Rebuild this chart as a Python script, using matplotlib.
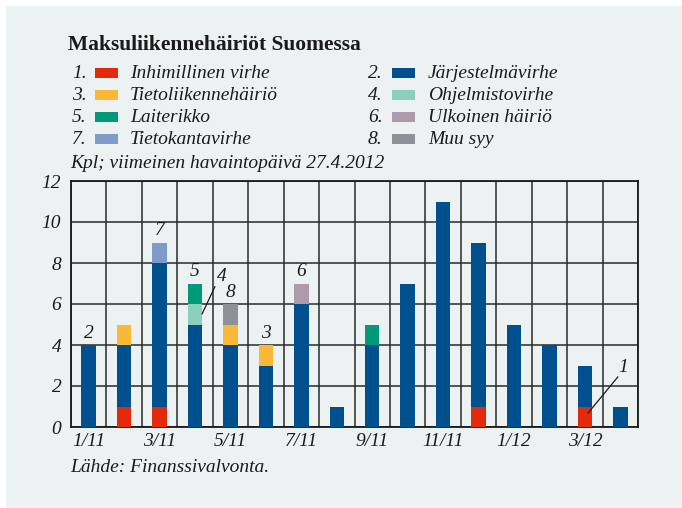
import matplotlib
matplotlib.use("Agg")
import matplotlib.pyplot as plt
from matplotlib.patches import Rectangle
import numpy as np

months = ["1/11", "2/11", "3/11", "4/11", "5/11", "6/11", "7/11", "8/11",
          "9/11", "10/11", "11/11", "12/11", "1/12", "2/12", "3/12", "4/12"]
tick_labels = ["1/11", "3/11", "5/11", "7/11", "9/11", "11/11", "1/12", "3/12"]

cat_names = ["Inhimillinen virhe", "Järjestelmävirhe", "Tietoliikennehäiriö",
             "Ohjelmistovirhe", "Laiterikko", "Ulkoinen häiriö",
             "Tietokantavirhe", "Muu syy"]
colors = ["#e42a0c", "#004f8e", "#fbb836", "#8dcfbd", "#009a78",
          "#ad9bab", "#7f9bc8", "#8e9196"]

human    = [0, 1, 1, 0, 0, 0, 0, 0, 0, 0, 0, 1, 0, 0, 1, 0]
system   = [4, 3, 7, 5, 4, 3, 6, 1, 4, 7, 11, 8, 5, 4, 2, 1]
telecom  = [0, 1, 0, 0, 1, 1, 0, 0, 0, 0, 0, 0, 0, 0, 0, 0]
software = [0, 0, 0, 1, 0, 0, 0, 0, 0, 0, 0, 0, 0, 0, 0, 0]
hardware = [0, 0, 0, 1, 0, 0, 0, 0, 1, 0, 0, 0, 0, 0, 0, 0]
external = [0, 0, 0, 0, 0, 0, 1, 0, 0, 0, 0, 0, 0, 0, 0, 0]
database = [0, 0, 1, 0, 0, 0, 0, 0, 0, 0, 0, 0, 0, 0, 0, 0]
other    = [0, 0, 0, 0, 1, 0, 0, 0, 0, 0, 0, 0, 0, 0, 0, 0]
series = [human, system, telecom, software, hardware, external, database, other]

top_labels = [("2", 0), ("7", 2), ("5", 3), ("8", 4), ("3", 5), ("6", 6)]

SERIF = ["Liberation Serif", "DejaVu Serif"]
BG = "#ecf2f2"
INK = "#1a1a1a"
FS = 14

fig = plt.figure(figsize=(6.82, 5.08), dpi=100)
fig.patch.set_facecolor("white")
fig.patches.append(Rectangle((6 / 682, 0), 1, 1 - 6 / 508, transform=fig.transFigure,
                             facecolor=BG, edgecolor="none", zorder=-10))

ax = fig.add_axes([71 / 682, 81 / 508, 567 / 682, 246 / 508])
ax.set_facecolor(BG)

x = np.arange(len(months))
bottom = np.zeros(len(months))
for vals, c in zip(series, colors):
    v = np.array(vals, dtype=float)
    ax.bar(x, v, width=0.41, bottom=bottom, color=c, edgecolor="none", zorder=3)
    bottom += v

ax.set_xlim(-0.5, len(months) - 0.5)
ax.set_ylim(0, 12)
ax.set_yticks(np.arange(0, 13, 2))
ax.set_yticklabels([str(v) for v in range(0, 13, 2)], fontfamily=SERIF,
                   fontstyle="italic", fontsize=FS, color=INK)
ax.set_xticks(np.arange(0, len(months), 2))
ax.set_xticklabels(tick_labels, fontfamily=SERIF, fontstyle="italic",
                   fontsize=FS, color=INK)
ax.tick_params(axis="y", length=0, pad=7)
ax.tick_params(axis="x", length=0, pad=4)
ax.set_xticks(np.arange(-0.5, len(months), 1), minor=True)
ax.tick_params(which="minor", length=0)
ax.grid(True, which="major", axis="y", color="#2a2a2a", linewidth=1.1, zorder=1)
ax.grid(True, which="minor", axis="x", color="#2a2a2a", linewidth=1.1, zorder=1)
ax.grid(False, which="major", axis="x")
for s in ax.spines.values():
    s.set_color(INK)
    s.set_linewidth(1.3)

totals = bottom
for lab, i in top_labels:
    ax.text(i, totals[i] + 0.15, lab, ha="center", va="bottom", fontfamily=SERIF,
            fontstyle="italic", fontsize=FS, color=INK, zorder=5)

ax.text(3.76, 6.95, "4", ha="center", va="bottom", fontfamily=SERIF,
        fontstyle="italic", fontsize=FS, color=INK, zorder=5)
ax.plot([3.56, 3.2], [6.84, 5.52], color=INK, linewidth=0.9, zorder=5)
ax.text(15.08, 2.5, "1", ha="center", va="bottom", fontfamily=SERIF,
        fontstyle="italic", fontsize=FS, color=INK, zorder=5)
ax.plot([14.93, 14.09], [2.44, 0.68], color=INK, linewidth=0.9, zorder=5)

fig.text(68 / 682, 1 - 45 / 508, "Maksuliikennehäiriöt Suomessa", fontfamily=SERIF,
         fontweight="bold", fontsize=15.5, color=INK, va="center", ha="left")

col_num_x = [72, 368]
col_sw_x = [95, 392]
col_txt_x = [130, 428]
row_y = [73, 95, 117, 139]
for k, (name, c) in enumerate(zip(cat_names, colors)):
    col = k % 2
    row = k // 2
    yc = 1 - row_y[row] / 508
    fig.text(col_num_x[col] / 682, yc, f"{k + 1}.", fontfamily=SERIF,
             fontstyle="italic", fontsize=FS, color=INK, va="center", ha="left")
    fig.patches.append(Rectangle((col_sw_x[col] / 682, yc - 5 / 508), 23 / 682, 10 / 508,
                                 transform=fig.transFigure, facecolor=c,
                                 edgecolor="none"))
    fig.text(col_txt_x[col] / 682, yc, name, fontfamily=SERIF, fontstyle="italic",
             fontsize=FS, color=INK, va="center", ha="left")

fig.text(70 / 682, 1 - 163 / 508, "Kpl; viimeinen havaintopäivä 27.4.2012",
         fontfamily=SERIF, fontstyle="italic", fontsize=FS, color=INK,
         va="center", ha="left")
fig.text(70 / 682, 1 - 467 / 508, "Lähde: Finanssivalvonta.", fontfamily=SERIF,
         fontstyle="italic", fontsize=FS, color=INK, va="center", ha="left")

fig.savefig("out.png", dpi=100, facecolor=fig.get_facecolor())
